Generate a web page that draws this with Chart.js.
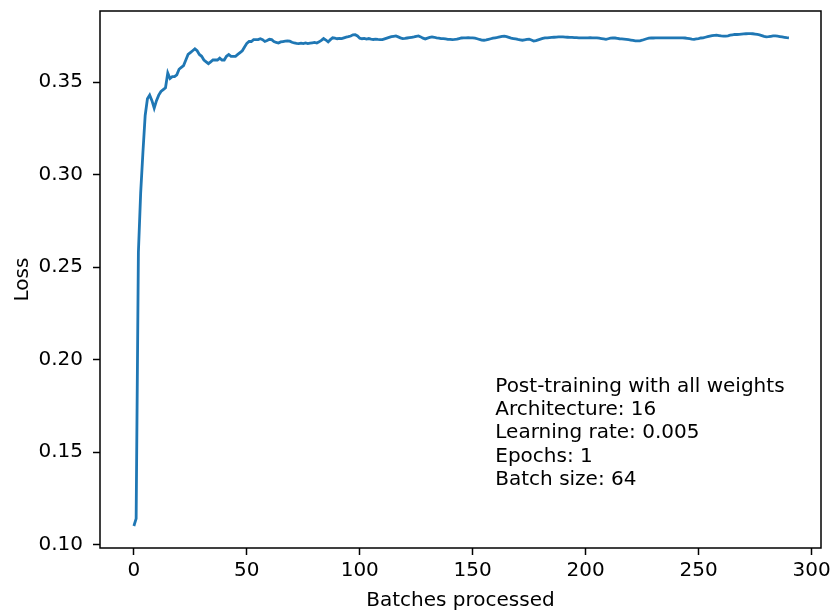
<!DOCTYPE html>
<html>
<head>
<meta charset="utf-8">
<script src="https://cdn.jsdelivr.net/npm/chart.js@4.4.1/dist/chart.umd.min.js"></script>
<style>
  html, body { margin: 0; padding: 0; background: #fff; }
  #wrap { width: 833px; height: 614px; position: relative; }
</style>
</head>
<body>
<div id="wrap"><canvas id="c" width="833" height="614"></canvas></div>
<script>
// ---- data ----
const lossValues = [
  0.110, 0.114, 0.258, 0.290, 0.312, 0.332, 0.341, 0.343, 0.340, 0.336,
  0.340, 0.343, 0.345, 0.346, 0.347, 0.355, 0.352, 0.353, 0.353, 0.354,
  0.357, 0.358, 0.359, 0.362, 0.365, 0.366, 0.367, 0.368, 0.367, 0.365,
  0.364, 0.362, 0.361, 0.360, 0.361, 0.362, 0.362, 0.362, 0.363, 0.362,
  0.362, 0.364, 0.365, 0.364, 0.364, 0.364, 0.365, 0.366, 0.367, 0.369,
  0.371, 0.372, 0.372, 0.373, 0.373, 0.373, 0.3735, 0.373, 0.372, 0.3725,
  0.3732, 0.373, 0.372, 0.3715, 0.3712, 0.3718, 0.372, 0.3722, 0.3723, 0.3722,
  0.3716, 0.3712, 0.371, 0.3709, 0.3711, 0.3709, 0.3712, 0.3709, 0.3711, 0.3713,
  0.3715, 0.3712, 0.3718, 0.3726, 0.3736, 0.3728, 0.3718, 0.373, 0.374, 0.3738,
  0.3735, 0.3737, 0.3736, 0.374, 0.3744, 0.3746, 0.375, 0.3756, 0.3757, 0.375,
  0.3738, 0.3735, 0.3737, 0.3733, 0.3736, 0.3733, 0.3731, 0.3733, 0.3731, 0.373,
  0.373, 0.3734, 0.3738, 0.3742, 0.3746, 0.3748, 0.375, 0.3745, 0.374, 0.3736,
  0.3737, 0.3739, 0.3741, 0.3743, 0.3745, 0.3748, 0.375, 0.3745, 0.3738, 0.3734,
  0.3738, 0.3742, 0.3745, 0.3743, 0.374, 0.3738, 0.3736, 0.3736, 0.3734, 0.3732,
  0.3731, 0.373, 0.3731, 0.3733, 0.3736, 0.3739, 0.374, 0.374, 0.3741, 0.374,
  0.374, 0.3738, 0.3735, 0.3731, 0.3728, 0.3727, 0.3729, 0.3732, 0.3735, 0.3738,
  0.374, 0.3742, 0.3745, 0.3748, 0.3749, 0.3746, 0.3742, 0.3738, 0.3736, 0.3734,
  0.3731, 0.3729, 0.3727, 0.3729, 0.3731, 0.3732, 0.3728, 0.3723, 0.3725, 0.3729,
  0.3733, 0.3737, 0.374, 0.374, 0.3741, 0.3742, 0.3743, 0.3744, 0.3745, 0.3745,
  0.3745, 0.3744, 0.3743, 0.3742, 0.3742, 0.3741, 0.3741, 0.374, 0.374, 0.374,
  0.374, 0.374, 0.3741, 0.374, 0.374, 0.374, 0.3738, 0.3736, 0.3734, 0.3732,
  0.3735, 0.3738, 0.374, 0.3739, 0.3737, 0.3735, 0.3734, 0.3733, 0.3732, 0.373,
  0.3728, 0.3726, 0.3724, 0.3723, 0.3724, 0.3727, 0.3731, 0.3735, 0.3738, 0.3739,
  0.3739, 0.374, 0.374, 0.374, 0.374, 0.374, 0.374, 0.374, 0.374, 0.374,
  0.374, 0.374, 0.374, 0.374, 0.3739, 0.3737, 0.3735, 0.3733, 0.3732, 0.3734,
  0.3736, 0.3739, 0.374, 0.3743, 0.3746, 0.3749, 0.3752, 0.3753, 0.3754, 0.3752,
  0.375, 0.3749, 0.3749, 0.3751, 0.3754, 0.3756, 0.3758, 0.3758, 0.3759, 0.376,
  0.3761, 0.3762, 0.3763, 0.3763, 0.3762, 0.376, 0.3758, 0.3756, 0.3752, 0.3748,
  0.3745, 0.3746, 0.3748, 0.375, 0.375, 0.3749, 0.3747, 0.3745, 0.3743, 0.3741,
  0.374
];
const xTickValues = [0, 50, 100, 150, 200, 250, 300];
const yTickValues = [0.10, 0.15, 0.20, 0.25, 0.30, 0.35];
const xLimits = [-15.0, 304.2];
const yLimits = [0.0981, 0.3885];
const xAxisLabel = 'Batches processed';
const yAxisLabel = 'Loss';
const noteLines = [
  'Post-training with all weights',
  'Architecture: 16',
  'Learning rate: 0.005',
  'Epochs: 1',
  'Batch size: 64'
];
const noteAnchor = { x: 160, y: 0.13 };

// ---- build ----
const points = lossValues.map((v, i) => ({ x: i, y: v }));
const FONT = 'DejaVu Sans';
const FS = 20;

const framePlugin = {
  id: 'frame',
  afterDatasetsDraw(chart) {
    const { ctx, chartArea: a } = chart;
    ctx.save();
    ctx.strokeStyle = '#000';
    ctx.lineWidth = 1.5;
    ctx.strokeRect(a.left, a.top, a.right - a.left, a.bottom - a.top);
    ctx.restore();
  }
};
const notePlugin = {
  id: 'note',
  afterDraw(chart) {
    const { ctx, scales } = chart;
    const x = scales.x.getPixelForValue(noteAnchor.x);
    const yBottom = scales.y.getPixelForValue(noteAnchor.y);
    const lh = 23.3;
    ctx.save();
    ctx.font = FS + 'px "' + FONT + '"';
    ctx.fillStyle = '#000';
    ctx.textAlign = 'left';
    ctx.textBaseline = 'alphabetic';
    const lastBase = yBottom - 4;
    noteLines.forEach((t, k) => {
      ctx.fillText(t, x, lastBase - (noteLines.length - 1 - k) * lh);
    });
    ctx.restore();
  }
};

new Chart(document.getElementById('c'), {
  type: 'line',
  data: {
    datasets: [{
      data: points,
      borderColor: '#1f77b4',
      borderWidth: 2.8,
      pointRadius: 0,
      fill: false,
      tension: 0
    }]
  },
  options: {
    responsive: false,
    animation: false,
    devicePixelRatio: 1,
    layout: { padding: { top: 11, right: 12, left: 0, bottom: 0 } },
    plugins: { legend: { display: false }, tooltip: { enabled: false } },
    scales: {
      x: {
        type: 'linear',
        min: xLimits[0], max: xLimits[1],
        afterFit(s) { s.height = 66; s.paddingLeft = 0; s.paddingRight = 0; },
        afterBuildTicks(s) { s.ticks = xTickValues.map(v => ({ value: v })); },
        grid: { drawOnChartArea: false, drawTicks: true, tickLength: 7, tickWidth: 1.5, tickColor: '#000' },
        border: { display: false },
        ticks: { color: '#000', font: { family: FONT, size: FS }, padding: 4, maxRotation: 0, autoSkip: false,
                 callback: v => String(v) },
        title: { display: true, text: xAxisLabel, color: '#000', font: { family: FONT, size: FS }, padding: { top: 0, bottom: 1 } }
      },
      y: {
        type: 'linear',
        min: yLimits[0], max: yLimits[1],
        afterFit(s) { s.width = 100; s.paddingTop = 0; s.paddingBottom = 0; },
        afterBuildTicks(s) { s.ticks = yTickValues.map(v => ({ value: v })); },
        grid: { drawOnChartArea: false, drawTicks: true, tickLength: 7, tickWidth: 1.5, tickColor: '#000' },
        border: { display: false },
        ticks: { color: '#000', font: { family: FONT, size: FS }, padding: 10, autoSkip: false,
                 callback: v => Number(v).toFixed(2) },
        title: { display: true, text: yAxisLabel, color: '#000', font: { family: FONT, size: FS }, padding: { top: 11, bottom: 0 } }
      }
    }
  },
  plugins: [framePlugin, notePlugin]
});
</script>
</body>
</html>
